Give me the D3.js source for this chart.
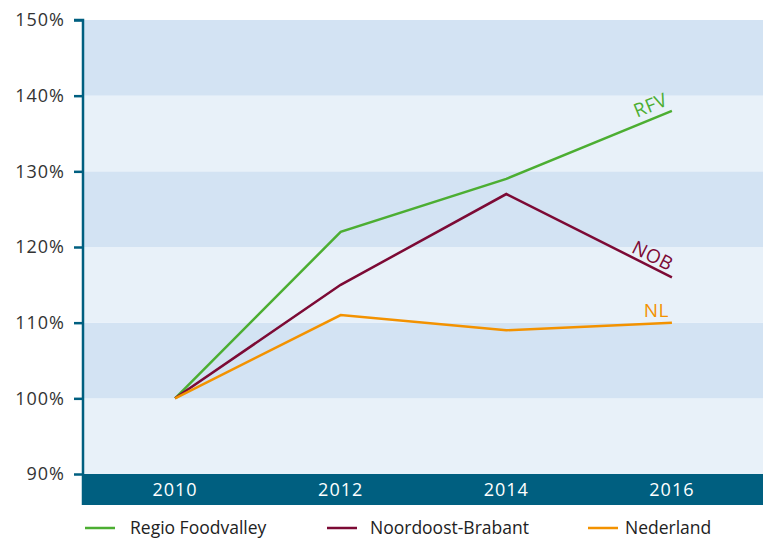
<!DOCTYPE html>
<html>
<head>
<meta charset="utf-8">
<script src="https://cdn.jsdelivr.net/npm/d3@7"></script>
<style>
  body { margin: 0; background: #fff; }
  text { font-family: "Open Sans", "Noto Sans", sans-serif; }
</style>
</head>
<body>
<div id="chart"></div>
<script>
const years = ['2010', '2012', '2014', '2016'];
const rfv = [100, 122, 129, 138];
const nob = [100, 115, 127, 116];
const nl = [100, 111, 109, 110];
const yTicks = [90, 100, 110, 120, 130, 140, 150];

const series = [
  { key: 'RFV', name: 'Regio Foodvalley', color: '#4cae32', values: rfv },
  { key: 'NOB', name: 'Noordoost-Brabant', color: '#7c0a35', values: nob },
  { key: 'NL', name: 'Nederland', color: '#f39200', values: nl }
];

const W = 763, H = 540;
const margin = { left: 84, right: 0, top: 20, bottom: 66 };
const plotH = H - margin.top - margin.bottom;

const svg = d3.select('#chart').append('svg')
  .attr('width', W).attr('height', H);

const x = d3.scalePoint().domain(years)
  .range([margin.left, W - margin.right]).padding(0.55);
const y = d3.scaleLinear().domain([90, 150])
  .range([margin.top + plotH, margin.top]);

// alternating background bands
const bands = d3.pairs(yTicks);
svg.append('g').selectAll('rect').data(bands).enter().append('rect')
  .attr('x', margin.left)
  .attr('width', W - margin.right - margin.left)
  .attr('y', d => y(d[1]))
  .attr('height', d => y(d[0]) - y(d[1]))
  .attr('fill', (d, i) => i % 2 ? '#d3e3f3' : '#e8f1f9');

// x axis bar
const barH = 31;
svg.append('rect')
  .attr('x', margin.left - 1)
  .attr('y', y(90))
  .attr('width', W - margin.left + 1)
  .attr('height', barH)
  .attr('fill', '#005f80');
svg.append('g').selectAll('text').data(years).enter().append('text')
  .attr('x', d => x(d))
  .attr('y', y(90) + barH / 2 + 6.5)
  .attr('text-anchor', 'middle')
  .attr('fill', '#fff')
  .attr('font-size', 18)
  .attr('letter-spacing', 1)
  .text(d => d);

// y axis
const yAxis = svg.append('g')
  .attr('transform', `translate(${margin.left - 1},0)`)
  .call(d3.axisLeft(y).tickValues(yTicks).tickSize(9).tickPadding(9)
    .tickFormat(d => d + '%'));
yAxis.select('.domain').attr('stroke', '#005f80').attr('stroke-width', 2.5)
  .attr('d', `M-9,${y(150)}H0V${y(90) + barH}`);
yAxis.selectAll('.tick line').attr('stroke', '#005f80').attr('stroke-width', 2.5);
yAxis.selectAll('.tick text').attr('fill', '#333').attr('font-size', 18)
  .attr('letter-spacing', 1)
  .style('font-family', '"Open Sans", "Noto Sans", sans-serif');

// lines
const line = d3.line().x((d, i) => x(years[i])).y(d => y(d));
svg.append('g').selectAll('path').data(series).enter().append('path')
  .attr('d', s => line(s.values))
  .attr('fill', 'none')
  .attr('stroke', s => s.color)
  .attr('stroke-width', 2.5);

// end labels, rotated along the last segment
series.forEach(s => {
  const n = s.values.length;
  const x0 = x(years[n - 2]), y0 = y(s.values[n - 2]);
  const x1 = x(years[n - 1]), y1 = y(s.values[n - 1]);
  let ang = Math.atan2(y1 - y0, x1 - x0) * 180 / Math.PI;
  if (s.key === 'NL') ang = 0;
  svg.append('text')
    .attr('transform', `translate(${x1 - 3},${y1 - 6}) rotate(${ang})`)
    .attr('text-anchor', 'end')
    .attr('fill', s.color)
    .attr('font-size', 19)
    .attr('letter-spacing', 0.5)
    .text(s.key);
});

// legend
const legendX = [85, 327, 588];
const legendGap = [45, 43, 37];
const legY = 528;
const leg = svg.append('g').selectAll('g').data(series).enter().append('g')
  .attr('transform', (d, i) => `translate(${legendX[i]},${legY})`);
leg.append('line').attr('x1', 0).attr('x2', 30)
  .attr('stroke', d => d.color).attr('stroke-width', 2.5);
leg.append('text').attr('x', (d, i) => legendGap[i]).attr('y', 6)
  .attr('fill', '#222').attr('font-size', 17.5)
  .text(d => d.name);
</script>
</body>
</html>
